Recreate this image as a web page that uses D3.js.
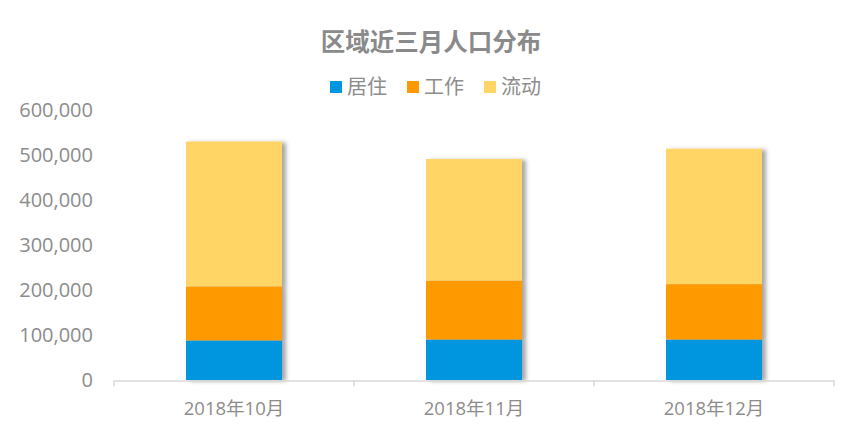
<!DOCTYPE html>
<html><head><meta charset="utf-8">
<script src="https://cdn.jsdelivr.net/npm/d3@7/dist/d3.min.js"></script>
<style>body{margin:0;background:#fff;}svg{display:block;font-family:"Noto Sans CJK SC","Microsoft YaHei",sans-serif;}</style>
</head><body>
<svg id="c" width="861" height="447"></svg>
<script>
const categories = ["2018年10月","2018年11月","2018年12月"];
const seriesNames = ["居住","工作","流动"];
const juzhu = [88000, 90000, 90000];
const gongzuo = [120000, 131000, 123000];
const liudong = [322000, 270000, 301000];
const yTicks = [0,100000,200000,300000,400000,500000,600000];
const colors = ["#0096DF","#FF9900","#FFD565"];

const rows = categories.map((c,i)=>({cat:c, "居住":juzhu[i], "工作":gongzuo[i], "流动":liudong[i]}));
const stack = d3.stack().keys(seriesNames)(rows);

const svg = d3.select("#c");
const x = d3.scaleBand().domain(categories).range([114,834]).paddingInner(0.6).paddingOuter(0.3);
const y = d3.scaleLinear().domain([0,600000]).range([380,110]);

const defs = svg.append("defs");
const f = defs.append("filter").attr("id","sh").attr("x","-20%").attr("y","-20%").attr("width","150%").attr("height","150%");
f.append("feDropShadow").attr("dx",4).attr("dy",1).attr("stdDeviation",2).attr("flood-color","#000").attr("flood-opacity",0.35);

// title
svg.append("text").attr("x",431).attr("y",51).attr("text-anchor","middle")
  .attr("font-size",24.5).attr("font-weight","bold").attr("fill","#8a8a8a").text("区域近三月人口分布");

// legend
const lg = svg.append("g");
seriesNames.forEach((s,i)=>{
  const lx = 330 + i*77;
  lg.append("rect").attr("x",lx).attr("y",81).attr("width",12).attr("height",12).attr("fill",colors[i]);
  lg.append("text").attr("x",lx+17).attr("y",94).attr("font-size",20).attr("fill","#8c8c8c").text(s);
});

// y axis labels
const fmt = d3.format(",");
const ya = svg.append("g").attr("transform","translate(93,0)")
  .call(d3.axisLeft(y).tickValues(yTicks).tickFormat(fmt).tickSize(0).tickPadding(0));
ya.select(".domain").remove();
ya.selectAll("text").attr("font-size",20).attr("fill","#8c8c8c").attr("font-family","'Open Sans','Noto Sans CJK SC',sans-serif");

// bars
const barsG = svg.append("g").attr("filter","url(#sh)");
stack.forEach((layer,k)=>{
  barsG.selectAll(null).data(layer).enter().append("rect")
    .attr("x",d=>x(d.data.cat)).attr("width",x.bandwidth())
    .attr("y",d=>y(d[1])).attr("height",d=>y(d[0])-y(d[1]))
    .attr("fill",colors[k]);
});

// x axis
const xa = svg.append("g").attr("transform","translate(0,380.5)")
  .call(d3.axisBottom(x).tickSize(0).tickPadding(21));
xa.select(".domain").attr("stroke","#d9d9d9").attr("stroke-width",1.5);
xa.selectAll("text").attr("font-size",18.5).attr("fill","#8c8c8c").attr("font-family","'Open Sans','Noto Sans CJK SC',sans-serif");
const bounds = [114].concat(categories.map(c=>x(c)+x.bandwidth()+x.step()*0.3));
xa.selectAll(".bt").data(bounds).enter().append("line").attr("class","bt")
  .attr("x1",d=>d).attr("x2",d=>d).attr("y1",0).attr("y2",6).attr("stroke","#d9d9d9").attr("stroke-width",1.5);
</script>
</body></html>
